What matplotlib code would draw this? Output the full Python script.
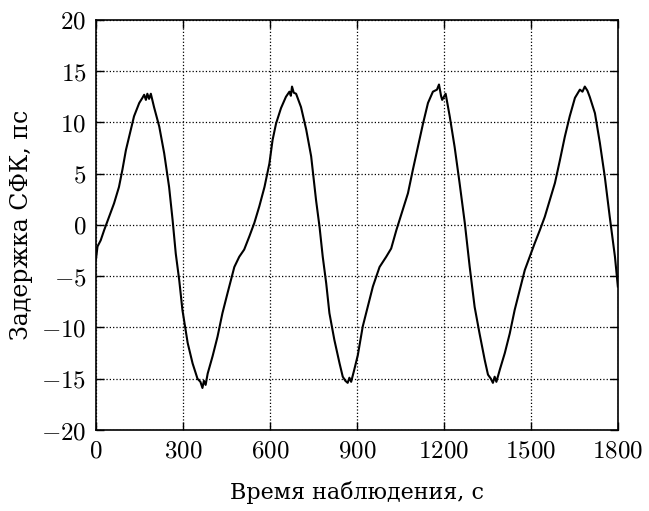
import matplotlib
matplotlib.use('Agg')
import matplotlib.pyplot as plt
from matplotlib.ticker import FuncFormatter

# values
t = [0, 5, 16, 28, 45, 62, 79, 91, 103, 114, 131, 149, 160, 166, 172, 177, 183, 189, 200,
     218, 235, 252, 264, 275, 287, 298, 316, 333, 350, 360, 367, 372, 378, 385, 402, 419, 436,
     454, 477, 494, 511, 529, 546, 563, 581, 598, 609, 621, 638, 655, 667, 672, 676, 682, 690,
     707, 725, 742, 759, 771, 782, 794, 805, 822, 840, 851, 860, 868, 874, 880, 890, 903, 920,
     937, 955, 978, 1001, 1018, 1036, 1058, 1076, 1093, 1110, 1128, 1145, 1162, 1176, 1183,
     1190, 1194, 1206, 1220, 1237, 1254, 1272, 1289, 1306, 1323, 1341, 1352, 1362, 1369, 1375,
     1381, 1393, 1410, 1427, 1444, 1462, 1479, 1496, 1513, 1531, 1548, 1565, 1583, 1600, 1617,
     1634, 1652, 1669, 1678, 1686, 1695, 1703, 1721, 1738, 1755, 1772, 1790, 1800]
delay = [-3.3, -2.1, -1.5, -0.5, 0.8, 2.1, 3.7, 5.4, 7.3, 8.6, 10.6, 11.9, 12.4, 12.7, 12.2,
         12.8, 12.3, 12.8, 11.5,
         9.6, 7.0, 3.7, 0.5, -2.8, -5.4, -8.3, -11.5, -13.5, -15.0, -15.3, -15.9, -15.2, -15.6,
         -14.5, -12.8, -10.9, -8.6,
         -6.6, -4.1, -3.1, -2.4, -1.1, 0.2, 1.8, 3.7, 6.0, 8.3, 9.9, 11.4, 12.5, 13.0, 12.6, 13.5,
         12.9, 12.8,
         11.5, 9.3, 6.7, 2.4, -0.2, -3.1, -5.7, -8.6, -11.2, -13.5, -14.8, -15.2, -15.4, -14.9,
         -15.3, -14.2, -12.7, -9.9,
         -8.0, -6.0, -4.1, -3.1, -2.3, -0.5, 1.5, 3.1, 5.4, 7.6, 9.9, 11.9, 13.0, 13.2, 13.7,
         12.6, 12.2, 12.8, 10.6, 7.6, 4.1, 0.2, -4.1, -8.0, -10.6, -13.2, -14.6, -15.0, -15.4, -14.8,
         -15.3, -14.1, -12.5, -10.6, -8.3, -6.3, -4.4, -3.1, -1.8, -0.5, 0.8, 2.4, 4.1, 6.3, 8.6,
         10.6, 12.4, 13.2, 13.0, 13.5, 13.1, 12.5, 10.9, 8.0, 4.7, 0.8, -3.1, -6.0]

x_ticks = [0, 300, 600, 900, 1200, 1500, 1800]
y_ticks = [-20, -15, -10, -5, 0, 5, 10, 15, 20]

plt.rcParams['font.family'] = ['DejaVu Serif']
plt.rcParams['mathtext.fontset'] = 'cm'

fig = plt.figure(figsize=(6.49, 5.11), dpi=100)
ax = fig.add_axes([0.148, 0.1585, 0.804, 0.8025])
ax.plot(t, delay, color='black', lw=1.5)

ax.set_xlim(0, 1800)
ax.set_ylim(-20, 20)
ax.set_xticks(x_ticks)
ax.set_yticks(y_ticks)
fmt = FuncFormatter(lambda v, p: r'$%d$' % v)
ax.xaxis.set_major_formatter(fmt)
ax.yaxis.set_major_formatter(fmt)
ax.tick_params(direction='in', top=True, right=True, length=6, width=1, labelsize=18, pad=7)
ax.grid(True, linestyle=':', color='black', lw=0.9)
for s in ax.spines.values():
    s.set_linewidth(1.2)

ax.set_xlabel('Время наблюдения, с', fontsize=16, labelpad=13)
ax.set_ylabel('Задержка СФК, пс', fontsize=17, labelpad=6)

fig.savefig('out.png', dpi=100)
